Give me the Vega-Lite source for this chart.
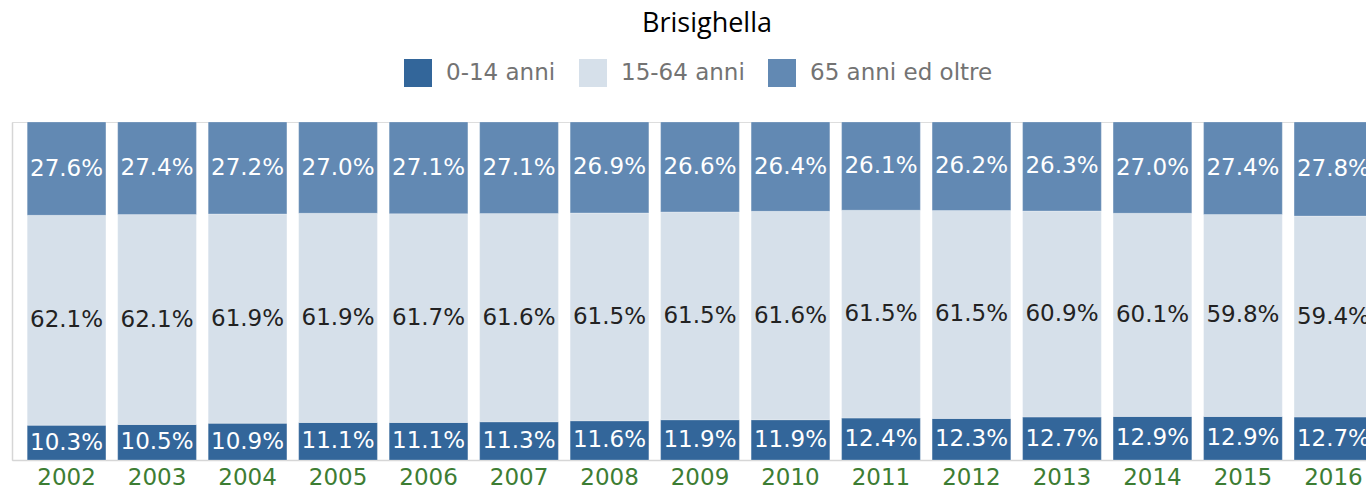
{
  "$schema": "https://vega.github.io/schema/vega-lite/v6.json",
  "autosize": {"type": "none"},
  "padding": {"left": 12, "top": 122, "right": 0, "bottom": 31},
  "width": 1376,
  "height": 338,
  "background": "white",
  "title": {
    "text": "Brisighella",
    "font": "Open Sans",
    "fontSize": 27,
    "fontWeight": "normal",
    "color": "#000000",
    "anchor": "middle",
    "frame": "group",
    "dx": 7,
    "offset": 21
  },
  "data": {
    "values": [
      {"anno": "2002", "fascia": "0-14 anni", "quota": 0.103},
      {"anno": "2002", "fascia": "15-64 anni", "quota": 0.621},
      {"anno": "2002", "fascia": "65 anni ed oltre", "quota": 0.276},
      {"anno": "2003", "fascia": "0-14 anni", "quota": 0.105},
      {"anno": "2003", "fascia": "15-64 anni", "quota": 0.621},
      {"anno": "2003", "fascia": "65 anni ed oltre", "quota": 0.274},
      {"anno": "2004", "fascia": "0-14 anni", "quota": 0.109},
      {"anno": "2004", "fascia": "15-64 anni", "quota": 0.619},
      {"anno": "2004", "fascia": "65 anni ed oltre", "quota": 0.272},
      {"anno": "2005", "fascia": "0-14 anni", "quota": 0.111},
      {"anno": "2005", "fascia": "15-64 anni", "quota": 0.619},
      {"anno": "2005", "fascia": "65 anni ed oltre", "quota": 0.270},
      {"anno": "2006", "fascia": "0-14 anni", "quota": 0.111},
      {"anno": "2006", "fascia": "15-64 anni", "quota": 0.617},
      {"anno": "2006", "fascia": "65 anni ed oltre", "quota": 0.271},
      {"anno": "2007", "fascia": "0-14 anni", "quota": 0.113},
      {"anno": "2007", "fascia": "15-64 anni", "quota": 0.616},
      {"anno": "2007", "fascia": "65 anni ed oltre", "quota": 0.271},
      {"anno": "2008", "fascia": "0-14 anni", "quota": 0.116},
      {"anno": "2008", "fascia": "15-64 anni", "quota": 0.615},
      {"anno": "2008", "fascia": "65 anni ed oltre", "quota": 0.269},
      {"anno": "2009", "fascia": "0-14 anni", "quota": 0.119},
      {"anno": "2009", "fascia": "15-64 anni", "quota": 0.615},
      {"anno": "2009", "fascia": "65 anni ed oltre", "quota": 0.266},
      {"anno": "2010", "fascia": "0-14 anni", "quota": 0.119},
      {"anno": "2010", "fascia": "15-64 anni", "quota": 0.616},
      {"anno": "2010", "fascia": "65 anni ed oltre", "quota": 0.264},
      {"anno": "2011", "fascia": "0-14 anni", "quota": 0.124},
      {"anno": "2011", "fascia": "15-64 anni", "quota": 0.615},
      {"anno": "2011", "fascia": "65 anni ed oltre", "quota": 0.261},
      {"anno": "2012", "fascia": "0-14 anni", "quota": 0.123},
      {"anno": "2012", "fascia": "15-64 anni", "quota": 0.615},
      {"anno": "2012", "fascia": "65 anni ed oltre", "quota": 0.262},
      {"anno": "2013", "fascia": "0-14 anni", "quota": 0.127},
      {"anno": "2013", "fascia": "15-64 anni", "quota": 0.609},
      {"anno": "2013", "fascia": "65 anni ed oltre", "quota": 0.263},
      {"anno": "2014", "fascia": "0-14 anni", "quota": 0.129},
      {"anno": "2014", "fascia": "15-64 anni", "quota": 0.601},
      {"anno": "2014", "fascia": "65 anni ed oltre", "quota": 0.270},
      {"anno": "2015", "fascia": "0-14 anni", "quota": 0.129},
      {"anno": "2015", "fascia": "15-64 anni", "quota": 0.598},
      {"anno": "2015", "fascia": "65 anni ed oltre", "quota": 0.274},
      {"anno": "2016", "fascia": "0-14 anni", "quota": 0.127},
      {"anno": "2016", "fascia": "15-64 anni", "quota": 0.594},
      {"anno": "2016", "fascia": "65 anni ed oltre", "quota": 0.278}
    ]
  },
  "encoding": {
    "x": {
      "field": "anno",
      "type": "ordinal",
      "scale": {"paddingInner": 0.13, "paddingOuter": 0.168},
      "axis": {
        "title": null,
        "labelAngle": 0,
        "labelFont": "DejaVu Sans",
        "labelFontSize": 23,
        "labelColor": "#3d7d33",
        "labelPadding": 6,
        "ticks": false,
        "domainColor": "#d6d6d6",
        "domainWidth": 1.5
      }
    },
    "order": {"field": "fascia", "type": "nominal", "sort": "ascending"}
  },
  "layer": [
    {
      "mark": {"type": "bar", "stroke": "white", "strokeWidth": 0.5, "strokeOpacity": 0.5},
      "encoding": {
        "y": {
          "field": "quota",
          "type": "quantitative",
          "stack": "normalize",
          "scale": {"domain": [0, 1], "nice": false},
          "axis": {
            "title": null,
            "labels": false,
            "ticks": false,
            "grid": false,
            "domainColor": "#d6d6d6",
            "domainWidth": 1.5
          }
        },
        "color": {
          "field": "fascia",
          "type": "nominal",
          "scale": {
            "domain": ["0-14 anni", "15-64 anni", "65 anni ed oltre"],
            "range": ["#33669a", "#d6e0ea", "#6289b3"]
          },
          "legend": {
            "title": null,
            "orient": "none",
            "direction": "horizontal",
            "legendX": 392,
            "legendY": -63,
            "symbolType": "square",
            "symbolSize": 784,
            "symbolStrokeWidth": 0,
            "labelFont": "DejaVu Sans",
            "labelFontSize": 23,
            "labelColor": "#737373",
            "labelOffset": 14,
            "labelLimit": 400,
            "columnPadding": 23
          }
        }
      }
    },
    {
      "mark": {"type": "text", "font": "DejaVu Sans", "fontSize": 23, "baseline": "middle", "align": "center"},
      "encoding": {
        "y": {
          "field": "quota",
          "type": "quantitative",
          "stack": "normalize",
          "bandPosition": 0.5
        },
        "detail": {"field": "fascia", "type": "nominal"},
        "text": {"field": "quota", "type": "quantitative", "format": ".1%"},
        "color": {
          "condition": {"test": "datum.fascia === '15-64 anni'", "value": "#222222"},
          "value": "#ffffff"
        }
      }
    }
  ]
}
